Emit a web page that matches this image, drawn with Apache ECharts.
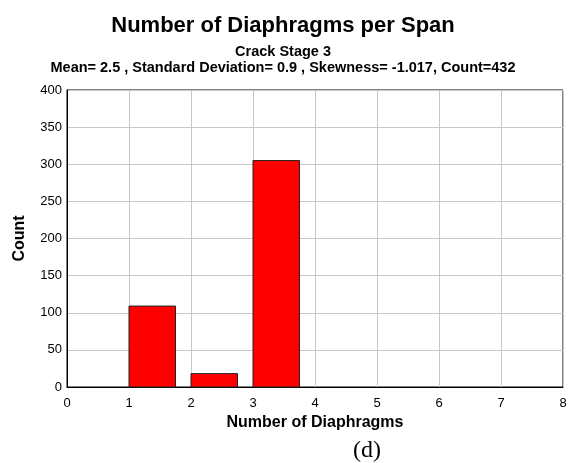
<!DOCTYPE html>
<html>
<head>
<meta charset="utf-8">
<script src="https://cdn.jsdelivr.net/npm/echarts@6/dist/echarts.min.js"></script>
<style>
  html, body { margin: 0; padding: 0; background: #fff; }
  #chart { width: 588px; height: 463px; }
</style>
</head>
<body>
<div id="chart"></div>
<script>
// Histogram of diaphragms per span, crack stage 3
const binStarts = [1, 2, 3];
const counts = [109, 18, 305];
const binWidth = 0.75;
const xTicks = [0, 1, 2, 3, 4, 5, 6, 7, 8];
const yTicks = [0, 50, 100, 150, 200, 250, 300, 350, 400];

const FONT = 'Liberation Sans, Arial, sans-serif';

const chart = echarts.init(document.getElementById('chart'), null, { renderer: 'canvas' });

const barData = binStarts.map((s, i) => [s, s + binWidth, counts[i]]);

chart.setOption({
  animation: false,
  backgroundColor: '#fff',
  title: [
    {
      text: 'Number of Diaphragms per Span',
      left: 278, top: 10, textAlign: 'center',
      textStyle: { fontFamily: FONT, fontSize: 22, fontWeight: 'bold', color: '#000' }
    },
    {
      text: 'Crack Stage 3',
      left: 278, top: 39, textAlign: 'center',
      textStyle: { fontFamily: FONT, fontSize: 14.5, fontWeight: 'bold', color: '#000' }
    },
    {
      text: 'Mean= 2.5 , Standard Deviation= 0.9 , Skewness= -1.017, Count=432',
      left: 278, top: 55, textAlign: 'center',
      textStyle: { fontFamily: FONT, fontSize: 14.5, fontWeight: 'bold', color: '#000' }
    },
    {
      text: '(d)',
      left: 362, top: 434, textAlign: 'center',
      textStyle: { fontFamily: 'Liberation Serif, Times New Roman, serif', fontSize: 24, fontWeight: 'normal', color: '#000' }
    }
  ],
  grid: { left: 67, right: 25, top: 90, bottom: 76, show: true, borderColor: '#000', borderWidth: 1 },
  xAxis: {
    type: 'value',
    min: xTicks[0], max: xTicks[xTicks.length - 1], interval: 1,
    name: 'Number of Diaphragms',
    nameLocation: 'middle', nameGap: 26,
    nameTextStyle: { fontFamily: FONT, fontSize: 16, fontWeight: 'bold', color: '#000' },
    axisLine: { show: true, lineStyle: { color: '#000', width: 1 } },
    axisTick: { show: false },
    axisLabel: { fontFamily: FONT, fontSize: 13, color: '#000', margin: 10 },
    splitLine: { show: true, lineStyle: { color: '#c8c8c8', width: 1 } }
  },
  yAxis: {
    type: 'value',
    min: yTicks[0], max: yTicks[yTicks.length - 1], interval: 50,
    name: 'Count',
    nameLocation: 'middle', nameGap: 39, nameRotate: 90,
    nameTextStyle: { fontFamily: FONT, fontSize: 16, fontWeight: 'bold', color: '#000' },
    axisLine: { show: true, lineStyle: { color: '#000', width: 1 } },
    axisTick: { show: false },
    axisLabel: { fontFamily: FONT, fontSize: 13, color: '#000', margin: 5 },
    splitLine: { show: true, lineStyle: { color: '#c8c8c8', width: 1 } }
  },
  series: [{
    type: 'custom',
    data: barData,
    encode: { x: [0, 1], y: 2 },
    renderItem: function (params, api) {
      const p0 = api.coord([api.value(0), api.value(2)]);
      const p1 = api.coord([api.value(1), 0]);
      return {
        type: 'rect',
        shape: { x: p0[0], y: p0[1], width: p1[0] - p0[0], height: p1[1] - p0[1] },
        style: { fill: '#ff0000', stroke: '#222', lineWidth: 1 }
      };
    }
  }]
});
</script>
</body>
</html>
